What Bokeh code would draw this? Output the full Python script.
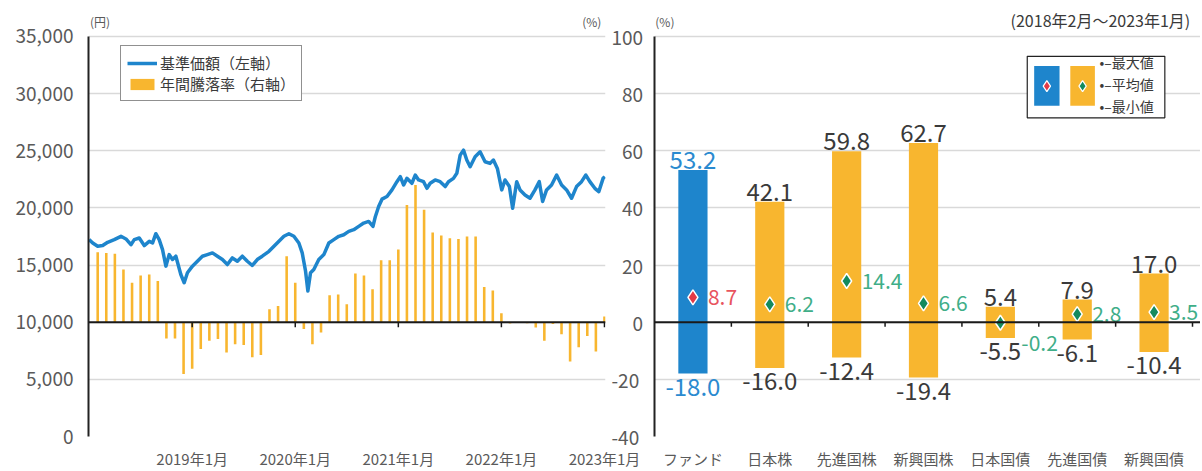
from bokeh.plotting import figure
from bokeh.models import (Range1d, FixedTicker, NumeralTickFormatter, Span, Legend,
                          LegendItem, Label, ColumnDataSource, LinearAxis)
from bokeh.layouts import row
from bokeh.embed import file_html
from bokeh.resources import INLINE
from bokeh.core.properties import value

# ---------------- data ----------------
# left chart: x = months since 2018-01 (2019年1月 = 12)
nav_month = [0.00, 0.42, 1.00, 1.58, 2.16, 2.93, 3.71, 4.29, 4.87, 5.26,
             5.84, 6.42, 7.00, 7.39, 7.77, 8.16, 8.55, 8.94, 9.32, 9.71,
             10.10, 10.68, 11.07, 11.45, 12.03, 12.61, 13.19, 13.77, 14.36, 14.94,
             15.52, 16.10, 16.68, 17.26, 17.84, 18.42, 19.00, 19.58, 20.16, 20.94,
             21.52, 22.10, 22.68, 23.26, 23.84, 24.42, 24.81, 25.20, 25.47, 25.78,
             26.16, 26.74, 27.33, 27.91, 28.49, 29.07, 29.65, 30.23, 30.81, 31.39,
             31.97, 32.55, 33.05, 33.33, 33.71, 34.10, 34.68, 35.26, 35.84, 36.23,
             36.62, 37.00, 37.58, 37.97, 38.36, 38.94, 39.33, 39.71, 40.29, 40.87,
             41.46, 41.84, 42.42, 42.81, 43.20, 43.59, 43.97, 44.36, 44.94, 45.52,
             46.10, 46.68, 47.07, 47.53, 48.04, 48.42, 48.93, 49.31, 49.78, 50.17,
             50.75, 51.33, 51.91, 52.41, 52.80, 53.26, 53.84, 54.43, 55.01, 55.59,
             56.17, 56.75, 57.33, 57.83, 58.30, 58.88, 59.34, 59.84, 60.04]
nav_yen = [17220, 16930, 16640, 16700, 16990, 17220, 17510, 17280, 16780, 17220,
           17360, 16700, 17070, 16930, 17740, 17220, 16350, 14900, 15910, 15480,
           15770, 14170, 13450, 14320, 14900, 15330, 15770, 15910, 16060, 15770,
           15480, 15040, 15620, 15330, 15770, 15330, 14960, 15480, 15770, 16200,
           16640, 17070, 17510, 17740, 17510, 16930, 16060, 14460, 12730, 14320,
           14610, 15480, 15910, 16930, 17220, 17510, 17650, 17940, 18090, 18380,
           18670, 18810, 18380, 19250, 20120, 20760, 20990, 21570, 22290, 22730,
           22000, 22580, 22150, 22870, 22440, 22290, 21710, 22150, 22440, 22290,
           21860, 22290, 22580, 23020, 24610, 25050, 24180, 23600, 24470, 24900,
           24030, 23890, 24180, 23450, 21570, 22440, 21860, 19970, 22290, 21570,
           21130, 20840, 21570, 22290, 20550, 21570, 22000, 22870, 22000, 21570,
           20840, 21860, 22290, 22870, 22290, 21710, 21420, 22580, 22730]

# annual return, monthly: 2018年2月 (=1) ... 2023年1月 (=60)
ret_month = list(range(1, 61))
ret_pct = [24.5, 24.2, 23.9, 18.4, 13.8, 16.3, 16.7, 14.4,
           -5.7, -5.7, -18.1, -16.3, -9.4, -6.5, -5.9, -10.6, -7.7, -8.0, -12.3, -11.5,
           4.5, 5.7, 23.1, 13.8,
           -2.4, -7.7, -3.6,
           9.4, 9.7, 6.3, 17.0, 16.3, 11.5, 21.7, 21.7, 25.4,
           41.0, 48.0, 39.3, 31.4, 30.3, 29.4, 29.1, 30.0, 30.0,
           12.3, 11.1, 3.1,
           -0.5, -0.3, -0.4, -1.9, -6.5, -0.6, -4.2, -13.8, -8.8, -4.8, -10.3, 2.0]

year_ticks = [12, 24, 36, 48, 60]
year_labels = ["2019年1月", "2020年1月", "2021年1月", "2022年1月", "2023年1月"]
yen_ticks = [0, 5000, 10000, 15000, 20000, 25000, 30000, 35000]
pct_ticks = [-40, -20, 0, 20, 40, 60, 80, 100]

# right chart
assets = ["ファンド", "日本株", "先進国株", "新興国株", "日本国債", "先進国債", "新興国債"]
max_vals = [53.2, 42.1, 59.8, 62.7, 5.4, 7.9, 17.0]
avg_vals = [8.7, 6.2, 14.4, 6.6, -0.2, 2.8, 3.5]
min_vals = [-18.0, -16.0, -12.4, -19.4, -5.5, -6.1, -10.4]

# ---------------- styles ----------------
FONT = "Noto Sans CJK JP"
BLUE = "#1E85CC"
ORANGE = "#F8B62F"
GRID = "#D9D9D9"
AXIS_TXT = "#5A5A5A"
DARK = "#3A3A3A"
GREEN_M = "#138A5E"
GREEN_T = "#3FAE88"
RED_M = "#E23A47"
RED_T = "#E8545E"
FIGSP = "\u2007"

# frame geometry: plot areas from y=36 (top tick) to y=438 (bottom tick); room above
TOP_PAD = 30
YEN_TOP = 35000 + TOP_PAD * 35000 / 402
PCT_TOP = 100 + TOP_PAD * 140 / 402
RIGHT_PAD = 8 / 76.86     # right chart frame reaches to the window edge


def style_axis_labels(ax, size):
    ax.major_label_text_font = FONT
    ax.major_label_text_font_size = size
    ax.major_label_text_color = AXIS_TXT
    ax.major_tick_line_color = None
    ax.minor_tick_line_color = None
    ax.major_tick_out = 0
    ax.major_tick_in = 0
    ax.minor_tick_out = 0


# ---------------- left chart ----------------
p1 = figure(width=646, height=471, output_backend="svg", toolbar_location=None,
            x_range=Range1d(-0.07, 60.12), y_range=Range1d(0, YEN_TOP),
            min_border_left=88, min_border_right=41, min_border_top=6, min_border_bottom=33)
p1.extra_y_ranges = {"pct": Range1d(-40, PCT_TOP)}
p1.outline_line_color = None
p1.xgrid.visible = False
p1.ygrid.ticker = FixedTicker(ticks=yen_ticks)
p1.ygrid.grid_line_color = GRID
p1.ygrid.grid_line_width = 1.3

ya = p1.yaxis[0]
ya.ticker = FixedTicker(ticks=yen_ticks)
ya.formatter = NumeralTickFormatter(format="0,0")
ya.bounds = (0, 35000)
style_axis_labels(ya, "19px")
ya.axis_line_color = "#222222"
ya.axis_line_width = 2
ya.major_label_standoff = 15

# right axis (年間騰落率) whose labels sit between both charts
ra = LinearAxis(y_range_name="pct", ticker=FixedTicker(ticks=pct_ticks), bounds=(-40, 100))
style_axis_labels(ra, "19px")
ra.axis_line_color = None
ra.major_label_standoff = 6
ra.major_label_overrides = {t: (FIGSP * (3 - len(str(t))) + str(t)) if t >= 0 else str(t)
                            for t in pct_ticks}
p1.add_layout(ra, "right")

xa = p1.xaxis[0]
xa.ticker = FixedTicker(ticks=year_ticks)
xa.major_label_overrides = {t: l for t, l in zip(year_ticks, year_labels)}
style_axis_labels(xa, "15px")
xa.axis_line_color = None
xa.major_label_standoff = 11

bars = p1.vbar(x=ret_month, top=ret_pct, bottom=0, width=0.3, fill_color=ORANGE,
               line_color=None, y_range_name="pct")
nav = p1.line(nav_month, nav_yen, line_width=3.5, line_color=BLUE, line_join="round")
p1.add_layout(Span(location=10000, dimension="width", line_color="#1A1A1A", line_width=2))
p1.segment(x0=year_ticks, x1=year_ticks, y0=[10000] * len(year_ticks),
           y1=[9550] * len(year_ticks), line_color="#1A1A1A", line_width=1.5)

leg = Legend(items=[LegendItem(label="基準価額（左軸）", renderers=[nav]),
                    LegendItem(label="年間騰落率（右軸）", renderers=[bars])],
             location=(32, 335), orientation="vertical",
             label_text_font=FONT, label_text_font_size="15px", label_text_color=DARK,
             glyph_width=30, glyph_height=14, label_height=19, label_standoff=3,
             spacing=0, padding=6, margin=0,
             border_line_color="#222222", border_line_width=1.2, background_fill_alpha=1)
p1.add_layout(leg)

p1.add_layout(Label(x=0.1, y=35000 + 15 * 35000 / 402, text="(円)", text_font=FONT,
                    text_font_size="12px", text_color=AXIS_TXT, text_align="left",
                    text_baseline="middle"))
p1.add_layout(Label(x=57.4, y=35000 + 15 * 35000 / 402, text="(%)", text_font=FONT,
                    text_font_size="12px", text_color=AXIS_TXT, text_align="left",
                    text_baseline="middle"))

# ---------------- right chart ----------------
idx = list(range(len(assets)))
p2 = figure(width=554, height=471, output_backend="svg", toolbar_location=None,
            x_range=Range1d(-0.5, 6.5 + RIGHT_PAD), y_range=Range1d(-40, PCT_TOP),
            min_border_left=8, min_border_right=0, min_border_top=6, min_border_bottom=33)
p2.outline_line_color = None
p2.xgrid.visible = False
p2.ygrid.ticker = FixedTicker(ticks=pct_ticks)
p2.ygrid.grid_line_color = GRID
p2.ygrid.grid_line_width = 1.3

ya2 = p2.yaxis[0]
ya2.ticker = FixedTicker(ticks=pct_ticks)
ya2.bounds = (-40, 100)
style_axis_labels(ya2, "0px")
ya2.major_label_overrides = {t: "" for t in pct_ticks}
ya2.major_label_standoff = 0
ya2.axis_line_color = "#222222"
ya2.axis_line_width = 2

xa2 = p2.xaxis[0]
xa2.ticker = FixedTicker(ticks=idx)
xa2.major_label_overrides = {i: a for i, a in zip(idx, assets)}
style_axis_labels(xa2, "15px")
xa2.axis_line_color = None
xa2.major_label_standoff = 11

is_fund = [i == 0 for i in idx]
src = ColumnDataSource(dict(
    x=idx, top=max_vals, bottom=min_vals, avg=avg_vals,
    top_txt=[f"{v:.1f}" for v in max_vals],
    bot_txt=[f"{v:.1f}" for v in min_vals],
    avg_txt=[f"{v:.1f}" for v in avg_vals],
    bar_color=[BLUE if f else ORANGE for f in is_fund],
    val_color=["#2A8AD0" if f else DARK for f in is_fund],
    m_color=[RED_M if f else GREEN_M for f in is_fund],
    a_color=[RED_T if f else GREEN_T for f in is_fund],
    a_dx=[21 if abs(v) < 1 else 15 for v in avg_vals],
    a_dy=[20 if abs(v) < 1 else 0 for v in avg_vals],
))

p2.vbar(x="x", top="top", bottom="bottom", width=0.38, fill_color="bar_color",
        line_color=None, source=src)
p2.add_layout(Span(location=0, dimension="width", line_color="#1A1A1A", line_width=2))
bounds = [i + 0.5 for i in idx]
p2.segment(x0=bounds, x1=bounds, y0=[0] * len(bounds), y1=[-1.6] * len(bounds),
           line_color="#1A1A1A", line_width=1.5)
p2.scatter(x="x", y="avg", marker="diamond", size=15, fill_color="m_color",
           line_color="white", line_width=1.5, source=src)

p2.text(x="x", y="top", text="top_txt", text_font=value(FONT), text_font_size="24px",
        text_color="val_color", text_align="center", text_baseline="bottom", y_offset=-1,
        source=src)
p2.text(x="x", y="bottom", text="bot_txt", text_font=value(FONT), text_font_size="24px",
        text_color="val_color", text_align="center", text_baseline="top", y_offset=4,
        source=src)
p2.text(x="x", y="avg", text="avg_txt", text_font=value(FONT), text_font_size="21px",
        text_color="a_color", text_align="left", text_baseline="middle",
        x_offset="a_dx", y_offset="a_dy", source=src)

# custom legend box (layout constants, not data)
p2.quad(left=[4.35], right=[6.14], top=[93.0], bottom=[71.5], fill_color="white",
        line_color="#222222", line_width=1.2)
p2.quad(left=[4.44, 4.91], right=[4.77, 5.23], top=[89.6, 89.6], bottom=[75.7, 75.7],
        fill_color=[BLUE, ORANGE], line_color=None)
p2.scatter(x=[4.605, 5.07], y=[82.6, 82.6], marker="diamond", size=11,
           fill_color=[RED_M, GREEN_M], line_color="white", line_width=1.2)
p2.text(x=[5.29, 5.29, 5.29], y=[91.0, 83.3, 75.7], text=["•–最大値", "•–平均値", "•–最小値"],
        text_font=value(FONT), text_font_size="14px", text_color=DARK,
        text_align="left", text_baseline="middle")

p2.add_layout(Label(x=-0.49, y=100 + 15 * 140 / 402, text="(%)", text_font=FONT,
                    text_font_size="12px", text_color=AXIS_TXT, text_align="left",
                    text_baseline="middle"))
p2.add_layout(Label(x=6.47, y=100 + 16 * 140 / 402, text="(2018年2月～2023年1月)",
                    text_font=FONT, text_font_size="16px", text_color=DARK,
                    text_align="right", text_baseline="middle"))

layout = row(p1, p2)
open("out.html", "w").write(file_html(layout, INLINE))
